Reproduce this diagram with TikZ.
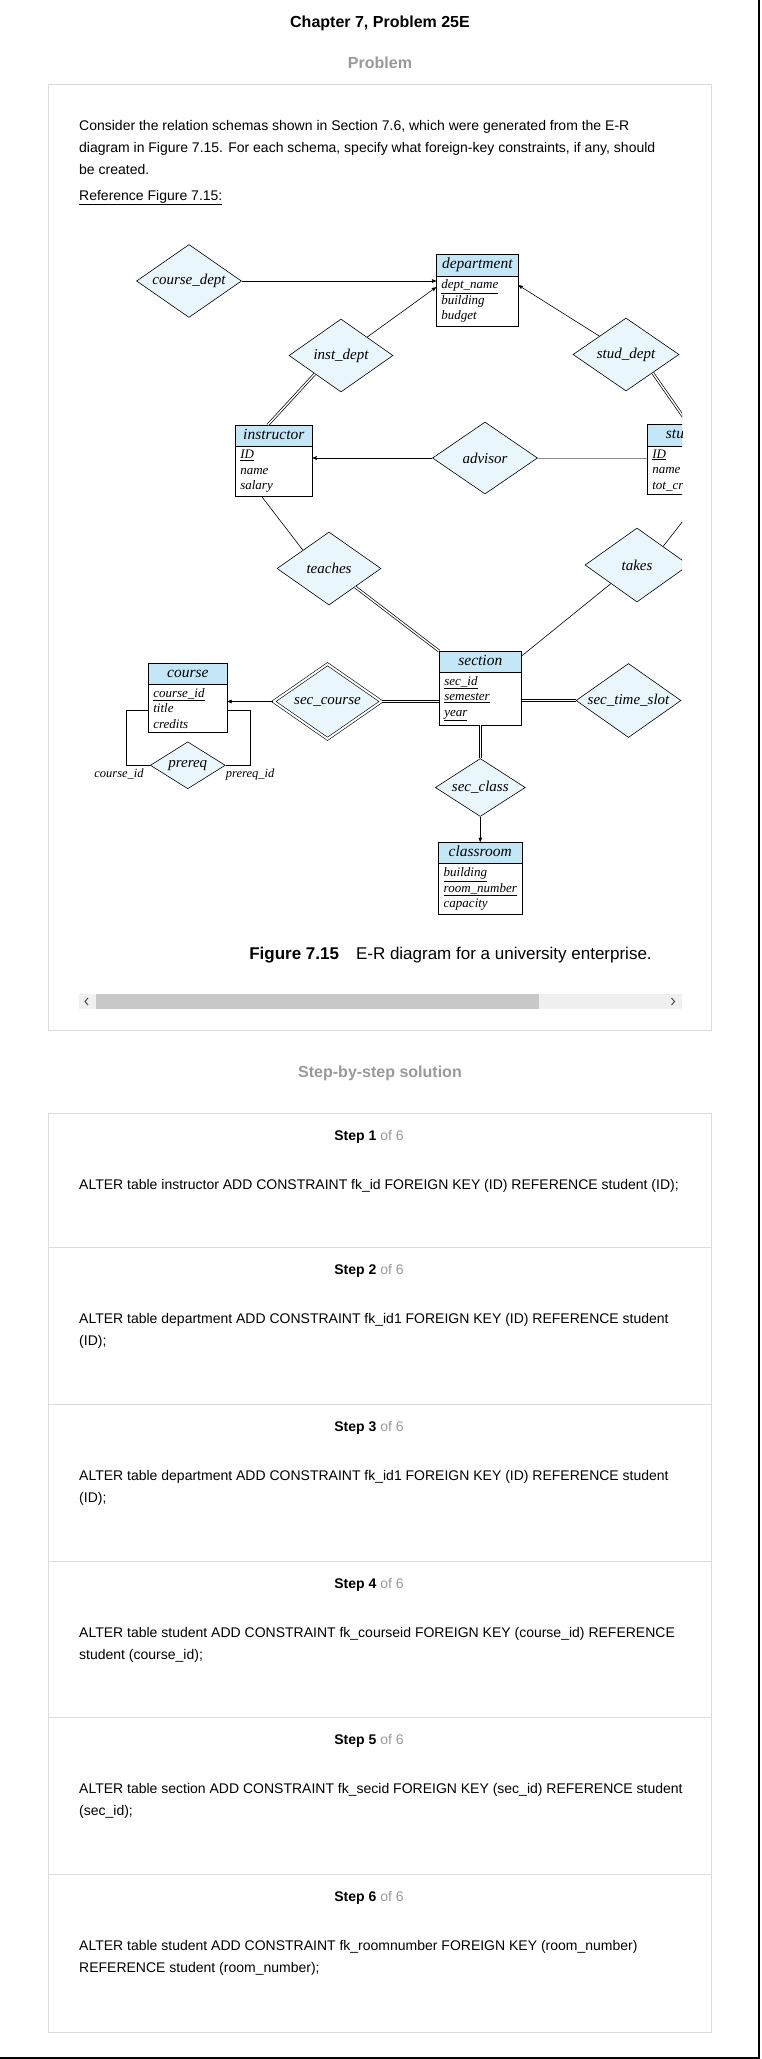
\documentclass[tikz,border=0pt]{standalone}
\usepackage{fontspec}
\setmainfont{Liberation Sans}
\newfontfamily\erfont{Liberation Serif}
\usepackage{tikz}
\usetikzlibrary{positioning, shapes.geometric, shapes.multipart, calc}
\usetikzlibrary{arrows}
\definecolor{hdrblue}{HTML}{C4E7F8}
\definecolor{relblue}{HTML}{E9F6FC}
\definecolor{rulegray}{HTML}{DCDCDC}
\definecolor{fadedgray}{HTML}{999999}
\definecolor{trackgray}{HTML}{F0F0F0}
\definecolor{thumbgray}{HTML}{C8C8C8}
\newcommand{\ehead}[1]{{\fontsize{15.5}{17}\selectfont\vphantom{Ap}#1}}

\begin{document}
\begin{tikzpicture}[x=1pt, y=1pt, >=stealth', node distance=25pt,
        relship/.style={diamond, aspect=1.43, draw, fill=relblue, inner sep=0pt, font=\erfont\itshape\fontsize{15}{17}\selectfont},
        entity/.style={rectangle split, rectangle split parts=2, draw,
            rectangle split part fill={hdrblue,white}, rectangle split part align={center,left},
            align=left, inner xsep=5pt, inner ysep=3.5pt, anchor=north west,
            font=\erfont\itshape\fontsize{13}{15.5}\selectfont},
        total/.style={double, double distance=1.4pt, line width=0.7pt},
        rolelabel/.style={inner sep=1pt, font=\erfont\itshape\fontsize{12.5}{15}\selectfont},
        panel/.style={draw=rulegray, line width=1pt},
        stephead/.style={anchor=base, font=\fontsize{14}{16}\selectfont},
        steptext/.style={anchor=north west, inner sep=0pt, align=left, font=\fontsize{14}{22.5}\selectfont}]
    \tikzstyle{every node}=[font=\fontsize{14}{22}\selectfont]

    \useasboundingbox (0,0) rectangle (761,-2059);
    \draw[line width=2pt] (758.5,0) -- (758.5,-2058) -- (0,-2058);

    \node[anchor=base, font=\bfseries\fontsize{16}{18}\selectfont] (title) at (380,-27.8) {Chapter 7, Problem 25E};
    \node[anchor=base, text=fadedgray, font=\bfseries\fontsize{16}{18}\selectfont] (probhead) at (380,-68.8) {Problem};
    \draw[panel] (48,-84) rectangle (711,-1030);

    \node[anchor=north west, inner sep=0pt, align=left] (intro) at (79,-119.8) {Consider the relation schemas shown in Section 7.6, which were generated from the E-R\\
        diagram in Figure 7.15. For each schema, specify what foreign-key constraints, if any, should\\
        be created.};
    \node[anchor=north west, inner sep=0pt] (figref) at (79,-189.8) {\underline{Reference Figure 7.15:}};

    \begin{scope}[line width=0.6pt]
        \clip (79,-205) rectangle (682,-980);

        \node[relship, minimum width=105pt, minimum height=73pt] (coursedept) at (189,-281) {course\_dept};
        \node[entity, minimum width=82pt] (department) at (436,-254) {\ehead{department}\nodepart{two}\underline{dept\_name}\\building\\budget};
        \node[relship, minimum width=104pt, minimum height=73pt] (instdept) at (341,-355.5) {inst\_dept};
        \node[relship, minimum width=106pt, minimum height=73pt] (studdept) at (626,-354.5) {stud\_dept};
        \node[entity, minimum width=77pt] (instructor) at (235,-425) {\ehead{instructor}\nodepart{two}\underline{ID}\\name\\salary};
        \node[relship, minimum width=105pt, minimum height=72pt] (advisor) at (485,-458) {advisor};
        \node[entity, minimum width=82pt] (student) at (647,-424) {\ehead{student}\nodepart{two}\underline{ID}\\name\\tot\_cred};
        \node[relship, minimum width=104pt, minimum height=73pt] (teaches) at (329,-568.5) {teaches};
        \node[relship, minimum width=104pt, minimum height=74pt] (takes) at (637,-565) {takes};
        \node[entity, minimum width=79pt] (course) at (148,-663) {\ehead{course}\nodepart{two}\underline{course\_id}\\title\\credits};
        \node[relship, double, double distance=2pt, minimum width=108pt, minimum height=75pt] (seccourse) at (327.5,-701.5) {sec\_course};
        \node[entity, minimum width=82pt] (section) at (439,-651) {\ehead{section}\nodepart{two}\underline{sec\_id}\\\underline{semester}\\\underline{year}};
        \node[relship, minimum width=105pt, minimum height=74pt] (slot) at (628.5,-700.5) {sec\_time\_slot};
        \node[relship, minimum width=90pt, minimum height=58pt, below=33pt of section] (secclass) {sec\_class};
        \node[entity, minimum width=81pt, below=of secclass] (classroom) {\ehead{classroom}\nodepart{two}\underline{building}\\\underline{room\_number}\\capacity};
        \node[relship, minimum width=75pt, minimum height=47pt, below=9pt of course] (prereq) {prereq};
        \node[rolelabel, below left=2pt and 5pt of prereq.west] (cidlabel) {course\_id};
        \node[rolelabel, below right=2pt and -1pt of prereq.east] (pidlabel) {prereq\_id};

        \draw[->] (coursedept) -- (coursedept -| department.west);
        \draw[->] (instdept.north east) -- ([yshift=3pt]department.west);
        \draw[->] (studdept.north west) -- ([yshift=5pt]department.east);
        \draw[total] (instdept.south west) -- ([xshift=-6pt]instructor.north);
        \draw[total] (studdept.south east) -- (student.north);
        \draw[->] (advisor) -- (advisor -| instructor.east);
        \draw[draw=black!45, line width=0.9pt] (advisor) -- (advisor -| student.west);
        \draw ([xshift=-12pt]instructor.south) -- (teaches.north west);
        \draw[total] (teaches.south east) -- (section.north west);
        \draw ([yshift=-5pt]section.north east) -- (takes.south west);
        \draw (takes.north east) -- ([xshift=15pt]student.south);
        \draw[total, draw=black!75] (coursedept) -- (coursedept |- course.north);
        \draw[->] (seccourse) -- (seccourse -| course.east);
        \draw[total] (seccourse) -- (seccourse -| section.west);
        \draw[total] (slot.west) -- (slot.west -| section.north east);
        \draw[total] (section.south) -- (secclass.north);
        \draw[->] (secclass) -- (classroom);
        \draw ([yshift=-13pt]course.west) -- ++(-22,0) |- (prereq.west);
        \draw ([yshift=-13pt]course.east) -- ++(23,0) |- (prereq.east);
    \end{scope}

    \node[anchor=base, font=\fontsize{17}{20}\selectfont] (caption) at (450.5,-959) {\textbf{Figure 7.15}\hspace{1em}E-R diagram for a university enterprise.};

    \fill[trackgray] (79,-994) rectangle (682,-1009);
    \fill[thumbgray] (96,-994) rectangle (539,-1009);
    \draw[black!70, line width=1pt] (88,-998) -- (85,-1001.5) -- (88,-1005);
    \draw[black!70, line width=1pt] (671.5,-998) -- (674.5,-1001.5) -- (671.5,-1005);

    \node[anchor=base, text=fadedgray, font=\bfseries\fontsize{16}{18}\selectfont] (solhead) at (380,-1077.8) {Step-by-step solution};
    \draw[panel] (48,-1113) rectangle (711,-2032);
    \foreach \sy in {1247,1404,1561,1717,1874}
        \draw[panel] (48,-\sy) -- (711,-\sy);

    \foreach \sy/\n/\txt in {
        1113/1/{ALTER table instructor ADD CONSTRAINT fk\_id FOREIGN KEY (ID) REFERENCE student (ID);},
        1247/2/{ALTER table department ADD CONSTRAINT fk\_id1 FOREIGN KEY (ID) REFERENCE student\\(ID);},
        1404/3/{ALTER table department ADD CONSTRAINT fk\_id1 FOREIGN KEY (ID) REFERENCE student\\(ID);},
        1561/4/{ALTER table student ADD CONSTRAINT fk\_courseid FOREIGN KEY (course\_id) REFERENCE\\student (course\_id);},
        1717/5/{ALTER table section ADD CONSTRAINT fk\_secid FOREIGN KEY (sec\_id) REFERENCE student\\(sec\_id);},
        1874/6/{ALTER table student ADD CONSTRAINT fk\_roomnumber FOREIGN KEY (room\_number)\\REFERENCE student (room\_number);}} {
        \node[stephead] (head\n) at (369,-\sy-27) {\textbf{Step \n} \textcolor{fadedgray}{of 6}};
        \node[steptext] (sol\n) at (79,-\sy-65.8) {\txt};
    }
\end{tikzpicture}
\end{document}
